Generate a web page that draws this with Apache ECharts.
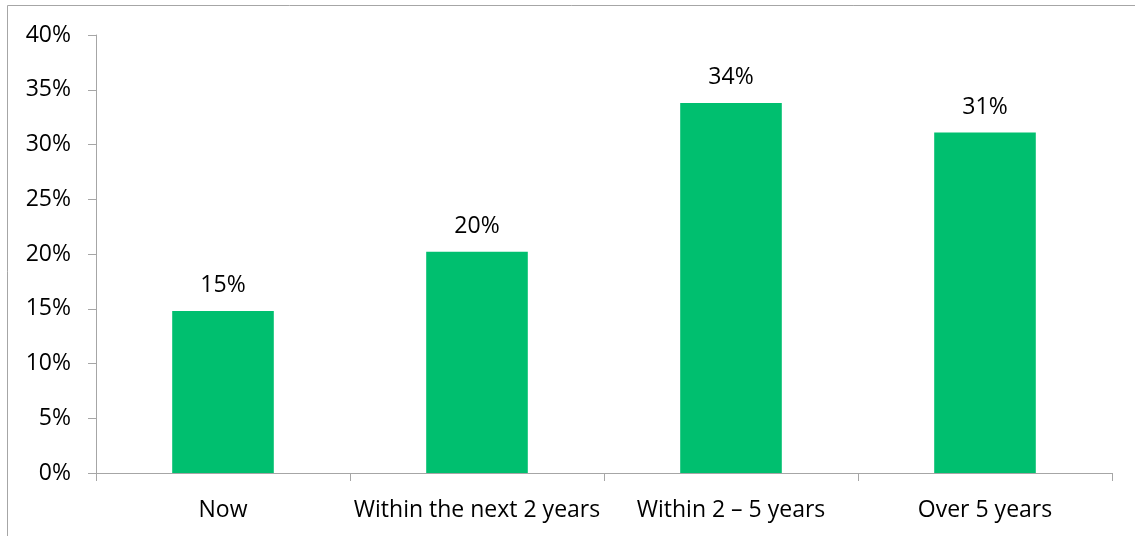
<!DOCTYPE html>
<html>
<head>
<meta charset="utf-8">
<script src="https://cdn.jsdelivr.net/npm/echarts@6/dist/echarts.min.js"></script>
<style>
html,body{margin:0;padding:0;background:#fff;}
#chart{width:1135px;height:536px;}
</style>
</head>
<body>
<div id="chart"></div>
<script>
const categories = ['Now', 'Within the next 2 years', 'Within 2 \u2013 5 years', 'Over 5 years'];
const values = [14.8, 20.2, 33.8, 31.1];
const yTicks = { min: 0, max: 40, interval: 5 };

const FONT = 'Open Sans';
const FS = 23;
const chart = echarts.init(document.getElementById('chart'), null, { renderer: 'canvas' });
chart.setOption({
  animation: false,
  backgroundColor: '#ffffff',
  graphic: [{
    type: 'rect',
    shape: { x: 7.5, y: 5.5, width: 1140, height: 540 },
    style: { fill: 'none', stroke: '#a6a6a6', lineWidth: 1 },
    silent: true
  }],
  grid: { left: 96, right: 23, top: 35, bottom: 63, containLabel: false },
  xAxis: {
    type: 'category',
    data: categories,
    axisLine: { show: true, lineStyle: { color: '#a6a6a6', width: 1 } },
    axisTick: { show: true, length: 8, lineStyle: { color: '#a6a6a6' } },
    axisLabel: { color: '#000', fontFamily: FONT, fontSize: FS, margin: 26, interval: 0 },
    splitLine: { show: false }
  },
  yAxis: {
    type: 'value',
    min: yTicks.min, max: yTicks.max, interval: yTicks.interval,
    axisLine: { show: true, lineStyle: { color: '#a6a6a6', width: 1 } },
    axisTick: { show: true, length: 8, lineStyle: { color: '#a6a6a6' } },
    axisLabel: { color: '#000', fontFamily: FONT, fontSize: FS, margin: 25, formatter: v => v + '%' },
    splitLine: { show: false }
  },
  series: [{
    type: 'bar',
    data: values,
    barWidth: '40%',
    itemStyle: { color: '#00bf6f' },
    label: {
      show: true, position: 'top', distance: 14,
      color: '#000', fontFamily: FONT, fontSize: FS,
      formatter: p => Math.round(p.value) + '%'
    }
  }]
});
</script>
</body>
</html>
